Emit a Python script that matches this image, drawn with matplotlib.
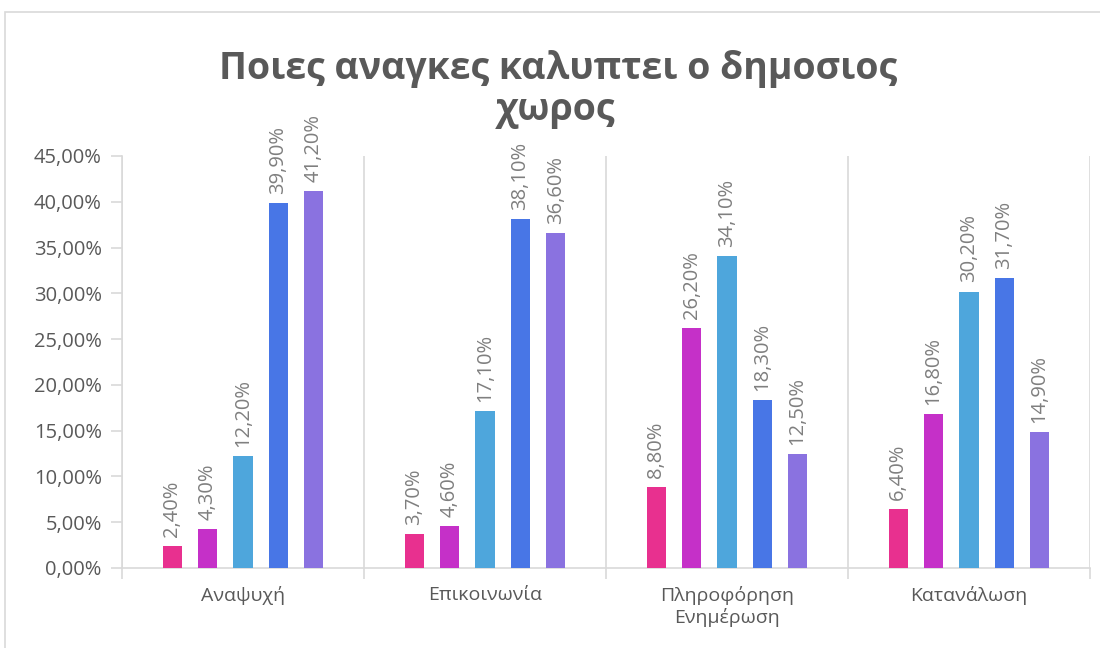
import matplotlib
matplotlib.use("Agg")
import matplotlib.pyplot as plt
from matplotlib.ticker import FuncFormatter
from matplotlib.patches import Rectangle
import numpy as np

plt.rcParams['font.family'] = ['Open Sans', 'DejaVu Sans']

title_lines = ["Ποιες αναγκες καλυπτει ο δημοσιος", "χωρος"]
categories = ["Αναψυχή", "Επικοινωνία", "Πληροφόρηση\nΕνημέρωση", "Κατανάλωση"]
series1 = [2.4, 3.7, 8.8, 6.4]
series2 = [4.3, 4.6, 26.2, 16.8]
series3 = [12.2, 17.1, 34.1, 30.2]
series4 = [39.9, 38.1, 18.3, 31.7]
series5 = [41.2, 36.6, 12.5, 14.9]
all_series = [series1, series2, series3, series4, series5]
colors = ["#E8308F", "#C530C8", "#4EA6DC", "#4876E6", "#8A72E0"]
yticks = [0, 5, 10, 15, 20, 25, 30, 35, 40, 45]

fig = plt.figure(figsize=(11, 6.48), dpi=100)
fig.patches.append(Rectangle((4.5/1100, -0.1), 1.2, 1 - 11.5/648 + 0.1, transform=fig.transFigure,
                             fill=False, edgecolor="#D9D9D9", linewidth=1.2))
ax = fig.add_axes([122/1100, 1 - 568/648, (1090-122)/1100, (568-156)/648])

x = np.arange(len(categories))
step = 0.146
width = 0.079
for j, (vals, c) in enumerate(zip(all_series, colors)):
    pos = x + (j - 2) * step
    bars = ax.bar(pos, vals, width=width, color=c, zorder=3)
    for b, v in zip(bars, vals):
        ax.annotate(f"{v:.2f}%".replace(".", ","), (b.get_x() + b.get_width()/2, v),
                    xytext=(0, 6.5), textcoords="offset points", rotation=90,
                    ha="center", va="bottom", fontsize=14.5, color="#7F7F7F")

ax.set_xlim(-0.5, len(categories) - 0.5)
ax.set_ylim(0, 45)
ax.set_yticks(yticks)
ax.yaxis.set_major_formatter(FuncFormatter(lambda v, p: f"{v:.2f}%".replace(".", ",")))
ax.set_xticks(x)
ax.set_xticklabels(categories, fontsize=14, color="#595959", linespacing=1.2)
ax.set_xticks(np.arange(len(categories) + 1) - 0.5, minor=True)
ax.tick_params(axis="x", which="major", length=0, pad=13)
ax.tick_params(axis="x", which="minor", length=8, color="#D9D9D9", width=1.2)
ax.tick_params(axis="y", length=8, color="#D9D9D9", width=1.2, labelsize=14.5,
               labelcolor="#595959", pad=6.5)
ax.grid(axis="x", which="minor", color="#D9D9D9", linewidth=1.2, zorder=0)
for s in ["top", "right"]:
    ax.spines[s].set_visible(False)
for s in ["left", "bottom"]:
    ax.spines[s].set_color("#D9D9D9")
    ax.spines[s].set_linewidth(1.2)

fig.text(558/1100, 1 - 78.5/648, title_lines[0], ha="center", va="baseline", fontsize=27,
         fontweight="bold", color="#595959")
fig.text(556/1100, 1 - 120/648, title_lines[1], ha="center", va="baseline", fontsize=27,
         fontweight="bold", color="#595959")

fig.savefig("out.png", dpi=100)
